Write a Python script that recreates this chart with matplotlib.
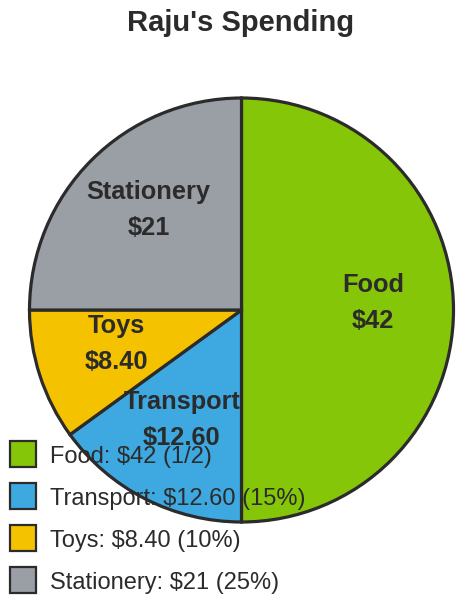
import numpy as np
import matplotlib
matplotlib.use("Agg")
import matplotlib.pyplot as plt
from matplotlib.patches import Rectangle

# ---- data ----
categories = ["Food", "Transport", "Toys", "Stationery"]
values = [42.0, 12.60, 8.40, 21.0]
value_labels = ["$42", "$12.60", "$8.40", "$21"]
share_labels = ["1/2", "15%", "10%", "25%"]
colors = ["#86c609", "#3ea8e0", "#f5c200", "#9a9ea5"]
title = "Raju's Spending"

W, H = 463, 602
plt.rcParams['font.family'] = ['Liberation Sans', 'DejaVu Sans']
TXT = "#2b2b2b"
EDGE = "#2b2b2b"

fig = plt.figure(figsize=(W / 100, H / 100), dpi=100)
ax = fig.add_axes([0, 0, 1, 1])

cx, cy_px, R = 241.5, 310.0, 212.0
cy = H - cy_px

wedges, _ = ax.pie(values, colors=colors, startangle=90, counterclock=False,
                   center=(cx, cy), radius=R,
                   wedgeprops=dict(edgecolor=EDGE, linewidth=2.3))
ax.set_xlim(0, W)
ax.set_ylim(0, H)
ax.set_aspect('equal')
ax.axis('off')

# slice labels
total = sum(values)
cum = 0.0
for cat, v, vl in zip(categories, values, value_labels):
    mid = 90 - 360 * (cum + v / 2) / total
    cum += v
    px = cx + 0.62 * R * np.cos(np.radians(mid))
    py = cy + 0.62 * R * np.sin(np.radians(mid))
    ax.text(px, py + 18, cat, ha='center', va='baseline', fontsize=18.3,
            fontweight='bold', color=TXT)
    ax.text(px, py - 18, vl, ha='center', va='baseline', fontsize=18.3,
            fontweight='bold', color=TXT)

# title
ax.text(241, H - 31, title, ha='center', va='baseline', fontsize=21,
        fontweight='bold', color=TXT)

# legend
row0, step = 454.0, 42.0
for i, (cat, vl, sl, col) in enumerate(zip(categories, value_labels, share_labels, colors)):
    yc = H - (row0 + i * step)
    ax.add_patch(Rectangle((9.5, yc - 13), 26, 26, facecolor=col,
                           edgecolor=EDGE, linewidth=1.6, zorder=5))
    ax.text(50, yc - 8.5, f"{cat}: {vl} ({sl})", ha='left', va='baseline',
            fontsize=17, color=TXT, zorder=6)

fig.savefig("out.png", dpi=100)
